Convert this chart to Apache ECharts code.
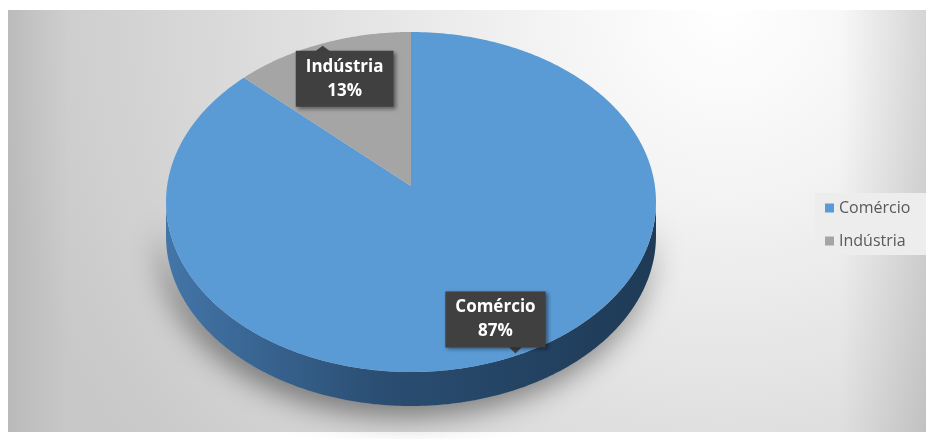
<!DOCTYPE html>
<html>
<head>
<meta charset="utf-8">
<script src="https://cdn.jsdelivr.net/npm/echarts@6/dist/echarts.min.js"></script>
<style>
  html, body { margin: 0; padding: 0; background: #ffffff; }
  #chart { width: 926px; height: 439px; }
</style>
</head>
<body>
<div id="chart"></div>
<script>
// Sector shares (percent)
const categories = ['Comércio', 'Indústria'];
const shares = [87, 13];
const sliceColors = ['#5B9BD5', '#A5A5A5'];

const chart = echarts.init(document.getElementById('chart'));

// Tilted pie seen in perspective: the disc centre projects to (CX, CY),
// the far half is slightly compressed (PERSP), the rim is extruded by DEPTH.
const CX = 411, CY = 186, SX = 243.9, SY = 168.5, PERSP = 0.0941, DEPTH = 34;
const LABEL_R = 0.775, LABEL_DX = 4, LABEL_DY = 5;
const total = shares.reduce((a, b) => a + b, 0);

function project(theta, r, dy) {
  const u = r * Math.cos(theta), v = r * Math.sin(theta);
  const w = 1 + PERSP * v;
  return [CX + SX * u / w, CY - SY * v / w + (dy || 0)];
}

// Slices run clockwise from 12 o'clock
function sliceAngles(i) {
  let before = 0;
  for (let k = 0; k < i; k++) before += shares[k];
  const a0 = Math.PI / 2 - 2 * Math.PI * before / total;
  const a1 = Math.PI / 2 - 2 * Math.PI * (before + shares[i]) / total;
  return [a0, a1]; // a1 < a0
}

function arcPoints(from, to, dy) {
  const pts = [];
  const n = Math.max(2, Math.ceil(Math.abs(to - from) / (Math.PI / 360)));
  for (let s = 0; s <= n; s++) {
    pts.push(project(from + (to - from) * s / n, 1, dy));
  }
  return pts;
}

// Parts of [lo, hi] on the visible front of the rim (between the silhouette points)
const SIL = Math.asin(PERSP);
function frontIntervals(lo, hi) {
  const out = [];
  for (let k = -2; k <= 2; k++) {
    const fLo = -Math.PI + SIL + 2 * Math.PI * k, fHi = -SIL + 2 * Math.PI * k;
    const a = Math.max(lo, fLo), b = Math.min(hi, fHi);
    if (b > a) out.push([a, b]);
  }
  return out;
}

const sideGradient = new echarts.graphic.LinearGradient(CX - SX, 0, CX + SX, 0, [
  { offset: 0, color: '#4375a8' },
  { offset: 0.45, color: '#2a4d71' },
  { offset: 1, color: '#1e3a56' }
], true);

function renderSlice(params, api) {
  const i = params.dataIndex;
  const [a0, a1] = sliceAngles(i);
  const children = [];

  frontIntervals(a1, a0).forEach(([lo, hi]) => {
    const topEdge = arcPoints(hi, lo, 0);
    const bottomEdge = arcPoints(lo, hi, DEPTH);
    children.push({
      type: 'polygon',
      z2: 1,
      shape: { points: topEdge.concat(bottomEdge) },
      style: {
        fill: sideGradient,
        shadowBlur: 30,
        shadowColor: 'rgba(0,0,0,0.5)',
        shadowOffsetX: -5,
        shadowOffsetY: 9
      }
    });
  });

  children.push({
    type: 'polygon',
    z2: 2,
    shape: { points: [[CX, CY]].concat(arcPoints(a0, a1, 0)) },
    style: { fill: sliceColors[i] }
  });

  const mid = (a0 + a1) / 2;
  const p = project(mid, LABEL_R, 0);
  const lx = p[0] + LABEL_DX, ly = p[1] + LABEL_DY;
  const upper = Math.sin(mid) > 0;
  const pct = Math.round(api.value(0) / total * 100);

  children.push({
    type: 'polygon',
    z2: 10,
    shape: {
      points: upper
        ? [[lx - 30, ly - 27], [lx - 22, ly - 33], [lx - 14, ly - 27]]
        : [[lx + 13, ly + 27], [lx + 20, ly + 34], [lx + 27, ly + 27]]
    },
    style: { fill: '#404040' }
  });

  children.push({
    type: 'text',
    z2: 11,
    x: lx,
    y: ly,
    style: {
      text: categories[i] + '\n' + pct + '%',
      fill: '#ffffff',
      fontFamily: 'Open Sans',
      fontWeight: 'bold',
      fontSize: 17,
      lineHeight: 24,
      align: 'center',
      verticalAlign: 'middle',
      backgroundColor: '#404040',
      padding: [4, 10, 4, 10],
      shadowBlur: 4,
      shadowColor: 'rgba(0,0,0,0.45)',
      shadowOffsetX: 2,
      shadowOffsetY: 2
    }
  });

  return { type: 'group', children };
}

const option = {
  animation: false,
  graphic: {
    elements: [
      {
        type: 'rect', z: 0,
        shape: { x: 8, y: 10, width: 918, height: 422 },
        style: {
          fill: {
            type: 'radial', x: 0.78, y: 0.0, r: 1.75,
            colorStops: [
              { offset: 0, color: '#ffffff' },
              { offset: 0.22, color: '#f5f5f5' },
              { offset: 0.6, color: '#dedede' },
              { offset: 1, color: '#c8c8c8' }
            ]
          }
        }
      },
      {
        type: 'rect', z: 0,
        shape: { x: 8, y: 10, width: 60, height: 422 },
        style: {
          fill: {
            type: 'linear', x: 0, y: 0, x2: 1, y2: 0,
            colorStops: [
              { offset: 0, color: 'rgba(0,0,0,0.07)' },
              { offset: 1, color: 'rgba(0,0,0,0)' }
            ]
          }
        }
      },
      {
        type: 'rect', z: 0,
        shape: { x: 840, y: 10, width: 86, height: 422 },
        style: {
          fill: {
            type: 'linear', x: 0, y: 0, x2: 1, y2: 0,
            colorStops: [
              { offset: 0, color: 'rgba(0,0,0,0)' },
              { offset: 1, color: 'rgba(0,0,0,0.12)' }
            ]
          }
        }
      }
    ]
  },
  legend: {
    orient: 'vertical',
    left: 815,
    top: 193,
    icon: 'rect',
    itemWidth: 9,
    itemHeight: 9,
    itemGap: 17,
    padding: [7, 30, 6, 10],
    backgroundColor: '#ededed',
    selectedMode: false,
    textStyle: { color: '#595959', fontSize: 16, fontFamily: 'Open Sans' },
    data: categories
  },
  series: [
    {
      type: 'custom',
      coordinateSystem: 'none',
      silent: true,
      renderItem: renderSlice,
      data: shares.map((v, i) => ({ name: categories[i], value: v }))
    },
    {
      // carries the legend entries and their colours
      type: 'pie',
      radius: [0, 0],
      center: [-50, -50],
      silent: true,
      label: { show: false },
      labelLine: { show: false },
      data: shares.map((v, i) => ({
        name: categories[i], value: v, itemStyle: { color: sliceColors[i] }
      }))
    }
  ]
};

chart.setOption(option);
</script>
</body>
</html>
